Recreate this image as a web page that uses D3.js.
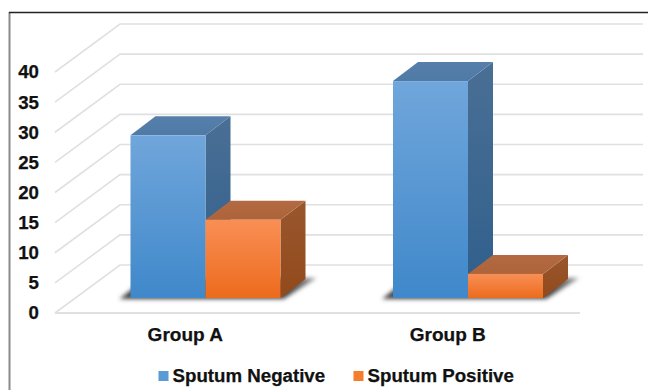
<!DOCTYPE html>
<html>
<head>
<meta charset="utf-8">
<script src="https://cdn.jsdelivr.net/npm/d3@7"></script>
<style>
  html, body { margin: 0; padding: 0; background: #fff; }
  svg { display: block; }
  text { font-family: "Liberation Sans", Arial, sans-serif; font-weight: bold; fill: #111; stroke: #111; stroke-width: 0.25px; }
</style>
</head>
<body>
<svg id="chart" width="648" height="390"></svg>
<script>
const groups = ["Group A", "Group B"];
const seriesNames = ["Sputum Negative", "Sputum Positive"];
const negativeValues = [27, 36];
const positiveValues = [13, 4];
const yTicks = [0, 5, 10, 15, 20, 25, 30, 35, 40];

const svg = d3.select("#chart");
const defs = svg.append("defs");

// Oblique projection: how far the back wall and the bars are pushed into the scene.
const wall = { dx: 65, dy: -48 };
const barInset = { dx: 19.25, dy: -15 };
const barDepth = { dx: 25, dy: -19 };

const x0 = d3.scaleBand().domain(groups).range([55, 580]);
const x1 = d3.scaleBand().domain(seriesNames).range([-75, 75]);
const yFront = d3.scaleLinear().domain([0, 40]).range([313, 72]);
const barH = v => yFront(0) - yFront(v);

const palette = {
  "Sputum Negative": {
    key: "#5b9bd5",
    front: ["#70a6db", "#3f88ca"],
    side: ["#4a6f95", "#2f5f8c"],
    top: ["#5680ab", "#507aa6"]
  },
  "Sputum Positive": {
    key: "#f47e2c",
    front: ["#f98f55", "#ec6b1d"],
    side: ["#99562e", "#924a1b"],
    top: ["#b36a42", "#ae643a"]
  }
};

function gradient(id, stops) {
  const g = defs.append("linearGradient").attr("id", id)
    .attr("x1", 0).attr("y1", 0).attr("x2", 0).attr("y2", 1);
  g.append("stop").attr("offset", 0).attr("stop-color", stops[0]);
  g.append("stop").attr("offset", 1).attr("stop-color", stops[1]);
}
seriesNames.forEach((name, i) => {
  ["front", "side", "top"].forEach(face => gradient(`${face}${i}`, palette[name][face]));
});
defs.append("filter").attr("id", "soft")
  .attr("x", "-10%").attr("y", "-30%").attr("width", "120%").attr("height", "160%")
  .append("feGaussianBlur").attr("stdDeviation", 2);

// Frame: grey rule on the left, dark rule along the top.
svg.append("line").attr("x1", 9.5).attr("x2", 9.5).attr("y1", 12).attr("y2", 390)
  .attr("stroke", "#8a8a8a").attr("stroke-width", 2);
svg.append("line").attr("x1", 9).attr("x2", 648).attr("y1", 12.5).attr("y2", 12.5)
  .attr("stroke", "#222").attr("stroke-width", 1.5);

// Gridlines run up the side wall and across the back wall.
const gridColor = "#e0e0e0";
const grid = svg.append("g").attr("fill", "none").attr("stroke", gridColor);
grid.selectAll("path.wall").data(yTicks).join("path").attr("class", "wall")
  .attr("stroke-width", 1.6)
  .attr("d", d => {
    const p = d3.path();
    p.moveTo(55, yFront(d));
    p.lineTo(55 + wall.dx, yFront(d) + wall.dy);
    p.lineTo(643, yFront(d) + wall.dy);
    return p.toString();
  });
grid.append("line").attr("x1", 55).attr("x2", 580)
  .attr("y1", yFront(0)).attr("y2", yFront(0)).attr("stroke-width", 2);

// Axis labels.
const yAxis = svg.append("g").attr("transform", "translate(55,0)")
  .call(d3.axisLeft(yFront).tickValues(yTicks).tickSize(0).tickPadding(16));
yAxis.select(".domain").remove();
yAxis.selectAll("text").attr("font-size", 18.7).style("font-family", null).attr("font-family", null);

const xAxis = svg.append("g").attr("transform", `translate(-1,${yFront(0)})`)
  .call(d3.axisBottom(x0).tickSize(0).tickPadding(13));
xAxis.select(".domain").remove();
xAxis.selectAll("text").attr("font-size", 19).attr("dy", "0.8em");

// Blurred shadow on the floor under each pair of bars, darkest against the bars.
const shadowFade = defs.append("linearGradient").attr("id", "shadowFade")
  .attr("x1", 0).attr("y1", 0).attr("x2", 1).attr("y2", 0);
shadowFade.append("stop").attr("offset", 0.85).attr("stop-color", "#444");
shadowFade.append("stop").attr("offset", 1).attr("stop-color", "#999");

svg.append("g").selectAll("path").data(groups).join("path")
  .attr("fill", "url(#shadowFade)").attr("filter", "url(#soft)")
  .attr("d", g => {
    const cx = x0(g) + x0.bandwidth() / 2 + barInset.dx;
    const yb = yFront(0) + barInset.dy;
    const p = d3.path();
    p.moveTo(cx + x1.range()[0] - 11, yb + 1);
    p.lineTo(cx + x1.range()[0] + 14, yb - 19);
    p.lineTo(cx + x1.range()[1] + 36, yb - 20);
    p.lineTo(cx + x1.range()[1] + 3, yb + 1);
    p.closePath();
    return p.toString();
  });

// Each bar is three faces; the positive bar is drawn last so it overlaps its neighbour.
const bars = [];
groups.forEach((g, gi) => {
  bars.push({ group: g, series: 0, value: negativeValues[gi] });
  bars.push({ group: g, series: 1, value: positiveValues[gi] });
});

const barG = svg.append("g").selectAll("g").data(bars).join("g")
  .attr("transform", d => {
    const left = x0(d.group) + x0.bandwidth() / 2 + x1(seriesNames[d.series]) + barInset.dx;
    return `translate(${left},${yFront(0) + barInset.dy})`;
  });

const w = x1.bandwidth();
barG.append("path").attr("fill", d => `url(#side${d.series})`)
  .attr("d", d => `M${w},0 L${w + barDepth.dx},${barDepth.dy} L${w + barDepth.dx},${barDepth.dy - barH(d.value)} L${w},${-barH(d.value)} Z`);
barG.append("path").attr("fill", d => `url(#top${d.series})`)
  .attr("d", d => {
    const t = -barH(d.value);
    return `M0,${t} L${barDepth.dx},${t + barDepth.dy} L${w + barDepth.dx},${t + barDepth.dy} L${w},${t} Z`;
  });
barG.append("rect").attr("fill", d => `url(#front${d.series})`)
  .attr("x", 0).attr("width", w)
  .attr("y", d => -barH(d.value)).attr("height", d => barH(d.value));

// Legend below the plot.
const legendX = [158.5, 353.5];
const legend = svg.append("g").selectAll("g").data(seriesNames).join("g")
  .attr("transform", (d, i) => `translate(${legendX[i]},371)`);
legend.append("rect").attr("width", 10).attr("height", 10)
  .attr("fill", d => palette[d].key);
legend.append("text").attr("x", 14).attr("y", 11)
  .attr("font-size", 18.7).text(d => d);
</script>
</body>
</html>
